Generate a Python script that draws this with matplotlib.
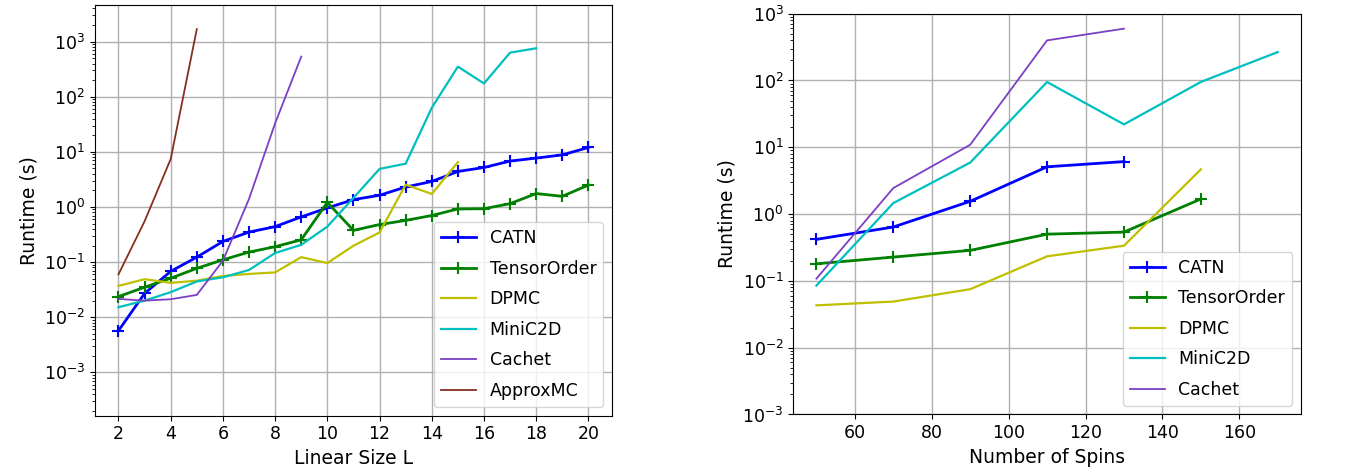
import numpy as np
import matplotlib
matplotlib.use('Agg')
import matplotlib.pyplot as plt

# left panel: runtime vs linear size L
L = list(range(2, 21))
catn_L = [0.0057, 0.027, 0.068, 0.123, 0.237, 0.35, 0.44, 0.66, 0.96, 1.36,
          1.63, 2.3, 2.9, 4.4, 5.2, 6.8, 7.7, 8.8, 12.0]
tensororder_L = [0.0237, 0.035, 0.051, 0.077, 0.11, 0.152, 0.19, 0.254, 1.21, 0.376,
                 0.48, 0.57, 0.70, 0.92, 0.93, 1.15, 1.75, 1.56, 2.5]
dpmc_L = [0.037, 0.049, 0.042, 0.046, 0.056, 0.061, 0.065, 0.123, 0.096, 0.198,
          0.345, 2.54, 1.72, 6.5]
minic2d_L = [0.0152, 0.020, 0.0285, 0.0445, 0.053, 0.072, 0.146, 0.206, 0.44, 1.46,
             4.9, 6.1, 63, 351, 174, 630, 755]
cachet_L = [0.0215, 0.020, 0.0212, 0.0254, 0.106, 1.4, 33, 533]
approxmc_L = [0.06, 0.55, 7.4, 1680]

# right panel: runtime vs number of spins
spins = [50, 70, 90, 110, 130, 150, 170]
catn_S = [0.418, 0.64, 1.55, 5.1, 6.1]
tensororder_S = [0.18, 0.227, 0.286, 0.50, 0.537, 1.68]
dpmc_S = [0.043, 0.049, 0.075, 0.233, 0.336, 4.67]
minic2d_S = [0.085, 1.46, 5.9, 94.7, 22, 95, 266]
cachet_S = [0.108, 2.45, 10.9, 398, 596]

plt.rcParams.update({'font.size': 12.5})
fig = plt.figure(figsize=(13.55, 4.74), dpi=100)
ax1 = fig.add_axes([0.0701, 0.1234, 0.3815, 0.866])
ax2 = fig.add_axes([0.5855, 0.1256, 0.3745, 0.8456])

purple = '#7b3fc4'
brown = '#84301f'
mk = dict(marker='+', ms=8, mew=1.5)

def style(ax, xlabel):
	ax.set_yscale('log')
	ax.grid(True, color='#b0b0b0', lw=1)
	ax.set_xlabel(xlabel, fontsize=13.5)
	ax.set_ylabel('Runtime (s)', fontsize=13.5)
	ax.tick_params(labelsize=12.5)
	ax.legend(loc='lower right', fontsize=12.5, labelspacing=0.72)

ax1.plot(L[:len(catn_L)], catn_L, '-', color='b', lw=2, label='CATN', **mk)
ax1.plot(L[:len(tensororder_L)], tensororder_L, '-', color='g', lw=2, label='TensorOrder', **mk)
ax1.plot(L[:len(dpmc_L)], dpmc_L, '-', color='y', lw=1.6, label='DPMC')
ax1.plot(L[:len(minic2d_L)], minic2d_L, '-', color='c', lw=1.6, label='MiniC2D')
ax1.plot(L[:len(cachet_L)], cachet_L, '-', color=purple, lw=1.3, label='Cachet')
ax1.plot(L[:len(approxmc_L)], approxmc_L, '-', color=brown, lw=1.3, label='ApproxMC')
ax1.set_ylim(1.65e-4, 4.6e3)
ax1.set_xticks(range(2, 21, 2))
style(ax1, 'Linear Size L')

ax2.plot(spins[:len(catn_S)], catn_S, '-', color='b', lw=2, label='CATN', **mk)
ax2.plot(spins[:len(tensororder_S)], tensororder_S, '-', color='g', lw=2, label='TensorOrder', **mk)
ax2.plot(spins[:len(dpmc_S)], dpmc_S, '-', color='y', lw=1.6, label='DPMC')
ax2.plot(spins[:len(minic2d_S)], minic2d_S, '-', color='c', lw=1.6, label='MiniC2D')
ax2.plot(spins[:len(cachet_S)], cachet_S, '-', color=purple, lw=1.3, label='Cachet')
ax2.set_ylim(1e-3, 1e3)
style(ax2, 'Number of Spins')

plt.savefig('out.png', dpi=100)
plt.close()
